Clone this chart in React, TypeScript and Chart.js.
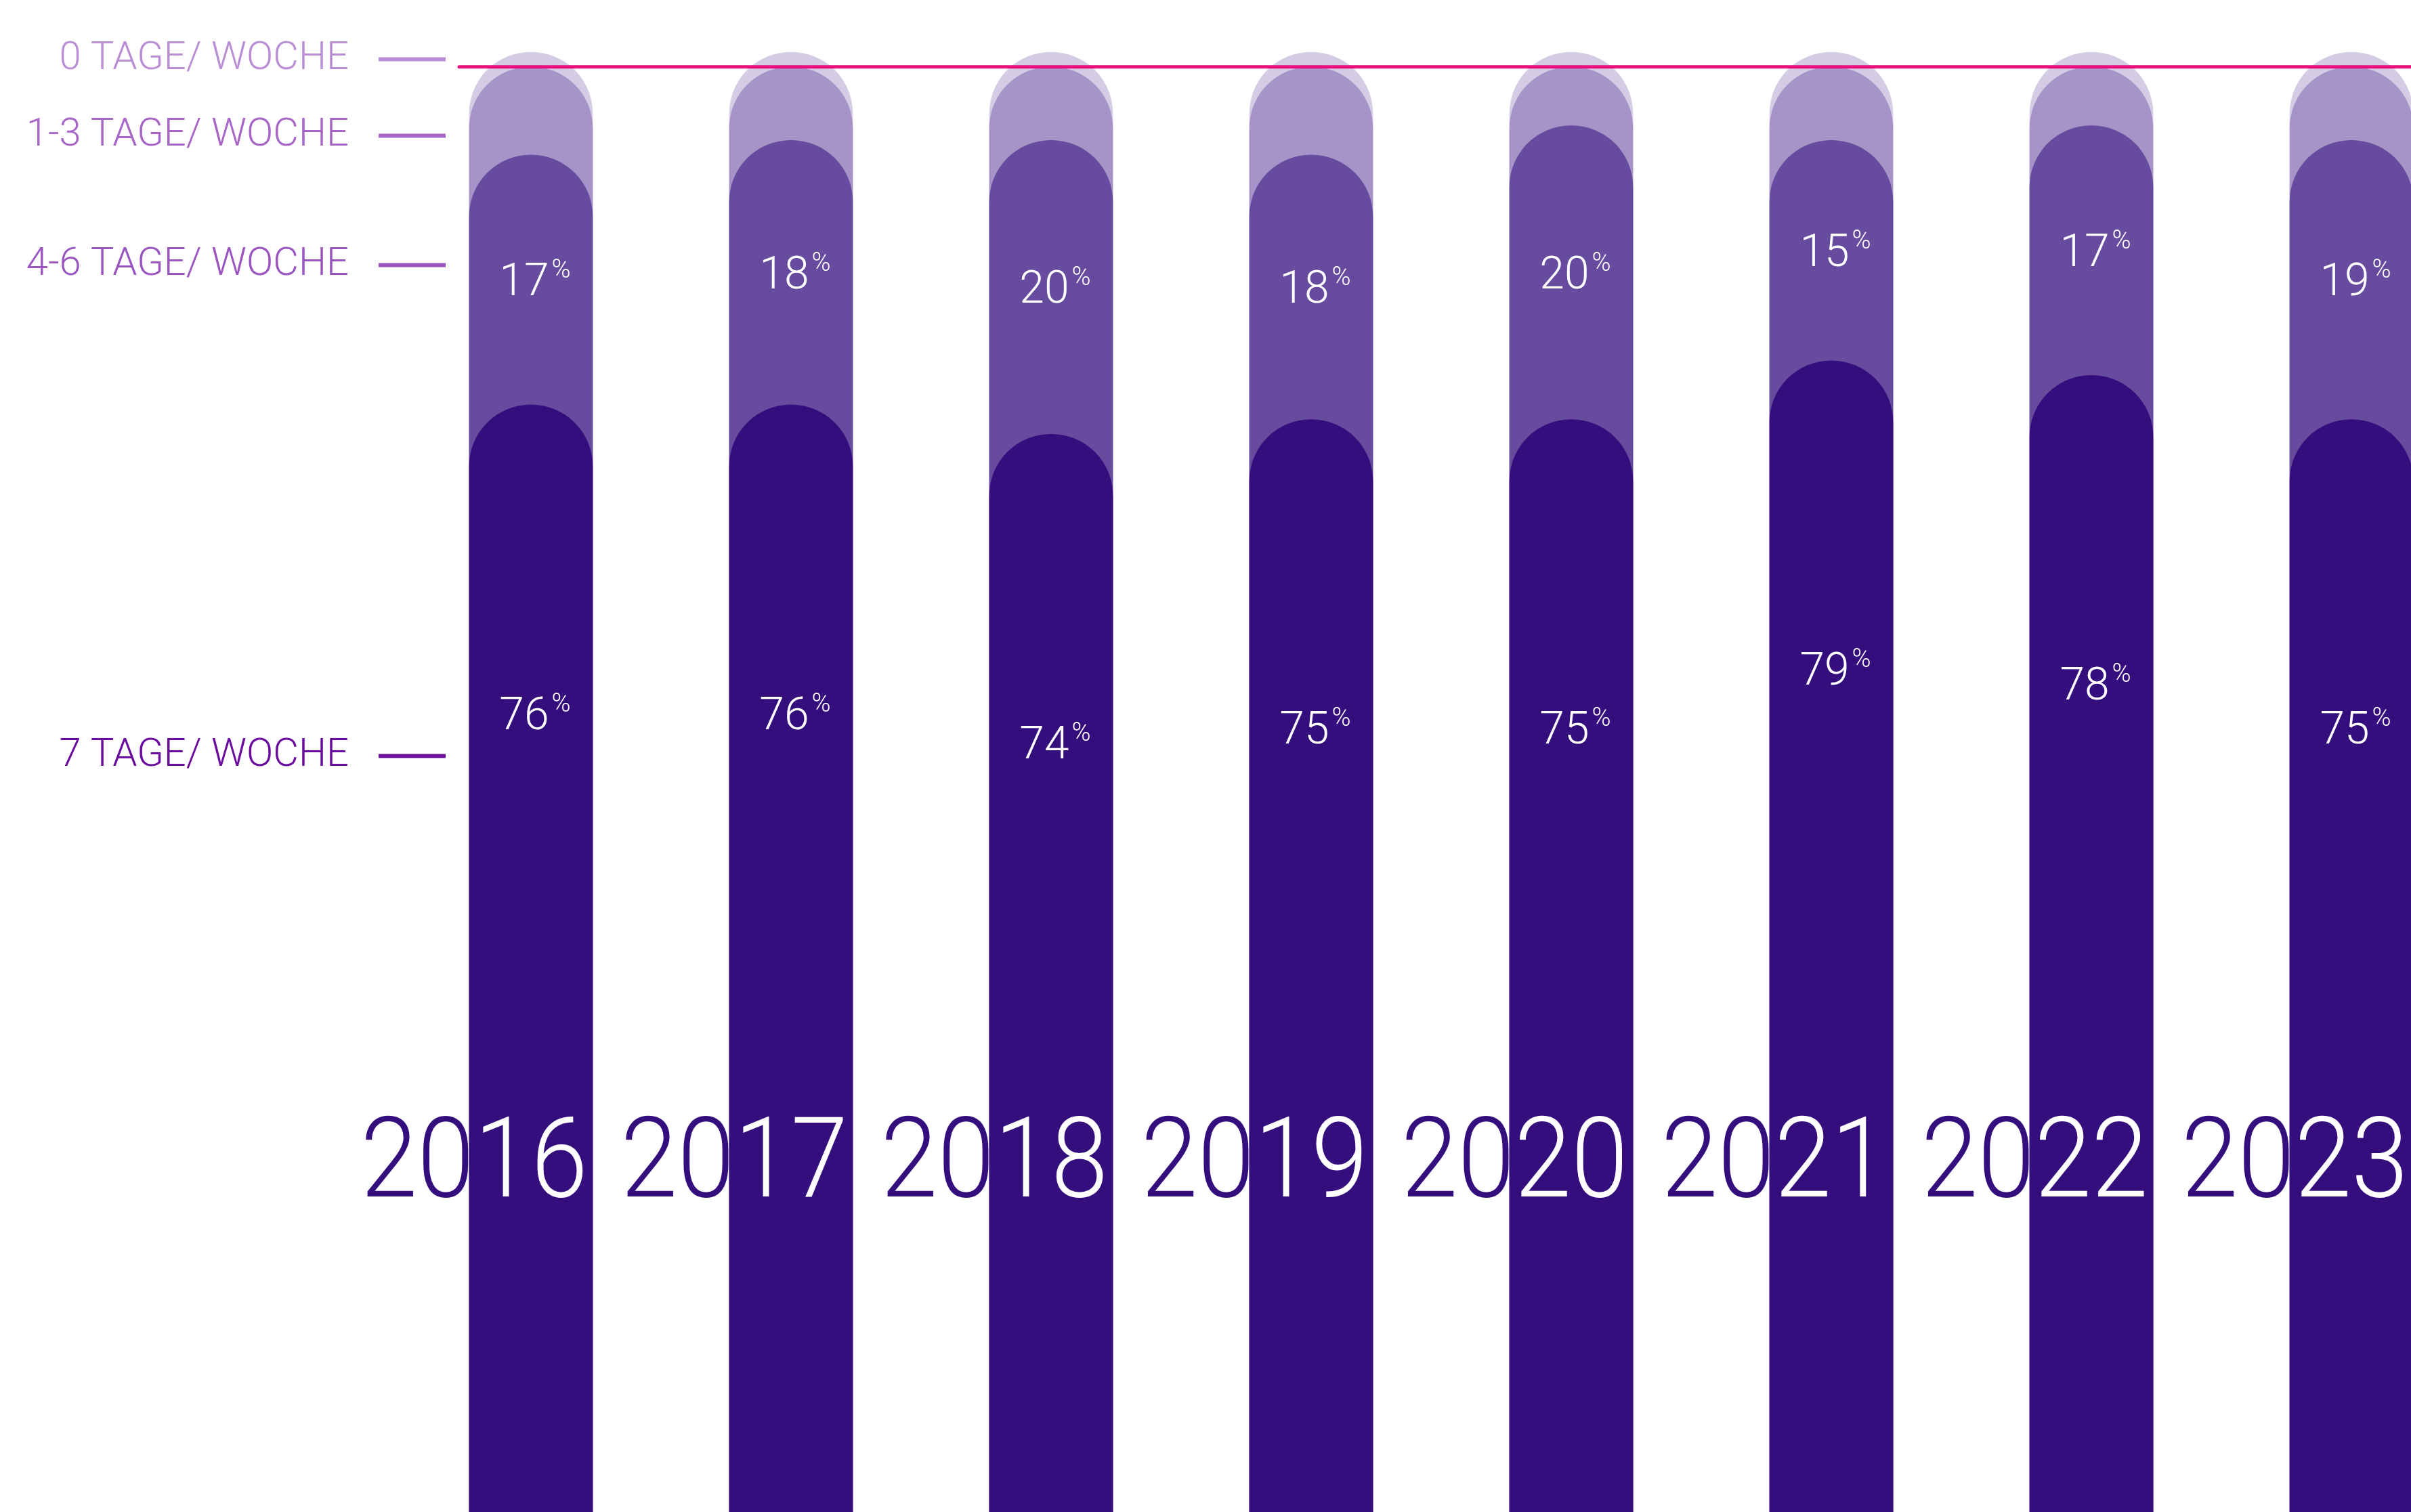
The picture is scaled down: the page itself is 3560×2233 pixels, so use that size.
import React, { useEffect, useRef } from 'react';
import { Chart, registerables } from 'chart.js';

Chart.register(...registerables);

// ---- data ----
const YEARS = [2016, 2017, 2018, 2019, 2020, 2021, 2022, 2023];
const SEVEN_DAYS = [76, 76, 74, 75, 75, 79, 78, 75];
const FOUR_TO_SIX_DAYS = [17, 18, 20, 18, 20, 15, 17, 19];
const ONE_TO_THREE_DAYS = [6, 5, 5, 6, 4, 5, 4, 5];
const ZERO_DAYS = [1, 1, 1, 1, 1, 1, 1, 1];
const REFERENCE_LINE = 99;

const LEGEND_LABELS = ['0 TAGE/ WOCHE', '1-3 TAGE/ WOCHE', '4-6 TAGE/ WOCHE', '7 TAGE/ WOCHE'];
const LEGEND_TICKS = [99.5, 94.3, 85.5, 52.1];

// ---- styles ----
const COLOR_SEVEN = '#350E7E';
const COLOR_FOUR_SIX = '#674B9E';
const COLOR_ONE_THREE = '#A494C7';
const COLOR_ZERO = '#D4CBE5';
const COLOR_PINK = '#E5127C';
const LEGEND_COLORS = ['#BA8ED4', '#A866C7', '#9B55C0', '#6B0A9F'];
const FONT = 'Roboto, "Noto Sans", sans-serif';

const W = 3560;
const H = 2233;

function cumulative(...arrs: number[][]): number[] {
  return YEARS.map((_, i) => arrs.reduce((s, a) => s + a[i], 0));
}

function drawPct(ctx: CanvasRenderingContext2D, value: number, cx: number, cy: number) {
  const txt = String(value);
  ctx.font = `300 66px ${FONT}`;
  const dw = ctx.measureText(txt).width;
  ctx.font = `300 38px ${FONT}`;
  const pw = ctx.measureText('%').width;
  const gap = 4;
  const total = dw + gap + pw;
  const left = cx - total / 2 + 6;
  ctx.fillStyle = '#FFFFFF';
  ctx.textAlign = 'left';
  ctx.textBaseline = 'alphabetic';
  ctx.font = `300 66px ${FONT}`;
  ctx.fillText(txt, left, cy + 23);
  ctx.font = `300 38px ${FONT}`;
  ctx.fillText('%', left + dw + gap, cy - 3);
}

const overlayPlugin = {
  id: 'overlay',
  afterDatasetsDraw(chart: any) {
    const { ctx, chartArea } = chart;
    const ys = chart.scales.y;

    // reference line
    const ly = ys.getPixelForValue(REFERENCE_LINE);
    ctx.save();
    ctx.strokeStyle = COLOR_PINK;
    ctx.lineWidth = 5;
    ctx.lineCap = 'round';
    ctx.beginPath();
    ctx.moveTo(chartArea.left + 20, ly);
    ctx.lineTo(chartArea.right, ly);
    ctx.stroke();
    ctx.restore();

    const meta = chart.getDatasetMeta(0);
    meta.data.forEach((bar: any, i: number) => {
      const { x, width } = bar.getProps(['x', 'width'], true);

      // percentage labels
      ctx.save();
      const midY = ys.getPixelForValue(SEVEN_DAYS[i] + FOUR_TO_SIX_DAYS[i] / 2);
      drawPct(ctx, FOUR_TO_SIX_DAYS[i], x, midY);
      const darkY = ys.getPixelForValue(SEVEN_DAYS[i] - 21);
      drawPct(ctx, SEVEN_DAYS[i], x, darkY);
      ctx.restore();

      // year labels (two-tone)
      const label = String(YEARS[i]);
      const head = label.slice(0, 2);
      const tail = label.slice(2);
      const sx = 0.91;
      ctx.save();
      ctx.font = `300 166px ${FONT}`;
      const tailW = ctx.measureText(tail).width * sx;
      const headW = ctx.measureText(head).width * sx;
      const startX = x - tailW / 2 - headW;
      const baseY = chartArea.bottom - 466;
      const drawYear = (color: string) => {
        ctx.save();
        ctx.translate(startX, baseY);
        ctx.scale(sx, 1);
        ctx.fillStyle = color;
        ctx.textAlign = 'left';
        ctx.textBaseline = 'alphabetic';
        ctx.fillText(label, 0, 0);
        ctx.restore();
      };
      drawYear(COLOR_SEVEN);
      ctx.beginPath();
      ctx.rect(x - width / 2, 0, width, chart.height);
      ctx.clip();
      drawYear('#FFFFFF');
      ctx.restore();
    });
  },
};

export default function App() {
  const canvasRef = useRef<HTMLCanvasElement | null>(null);

  useEffect(() => {
    let chart: Chart | null = null;
    let cancelled = false;

    const build = () => {
      if (cancelled || !canvasRef.current) return;
      const barStyle = {
        barThickness: 182,
        grouped: false,
        borderWidth: 0,
        borderRadius: { topLeft: 91, topRight: 91, bottomLeft: 0, bottomRight: 0 },
      };
      chart = new Chart(canvasRef.current, {
        type: 'bar',
        data: {
          labels: YEARS,
          datasets: [
            {
              label: '7 Tage/ Woche',
              data: YEARS.map((yr, i) => ({ x: yr, y: SEVEN_DAYS[i] })),
              backgroundColor: COLOR_SEVEN,
              order: 1,
              ...barStyle,
            },
            {
              label: '4-6 Tage/ Woche',
              data: YEARS.map((yr, i) => ({ x: yr, y: cumulative(SEVEN_DAYS, FOUR_TO_SIX_DAYS)[i] })),
              backgroundColor: COLOR_FOUR_SIX,
              order: 2,
              ...barStyle,
            },
            {
              label: '1-3 Tage/ Woche',
              data: YEARS.map((yr, i) => ({ x: yr, y: cumulative(SEVEN_DAYS, FOUR_TO_SIX_DAYS, ONE_TO_THREE_DAYS)[i] })),
              backgroundColor: COLOR_ONE_THREE,
              order: 3,
              ...barStyle,
            },
            {
              label: '0 Tage/ Woche',
              data: YEARS.map((yr, i) => ({ x: yr, y: cumulative(SEVEN_DAYS, FOUR_TO_SIX_DAYS, ONE_TO_THREE_DAYS, ZERO_DAYS)[i] })),
              backgroundColor: COLOR_ZERO,
              order: 4,
              ...barStyle,
            },
          ] as any,
        },
        options: {
          responsive: false,
          maintainAspectRatio: false,
          animation: false,
          devicePixelRatio: 1,
          layout: { padding: 0 },
          plugins: {
            legend: { display: false },
            tooltip: { enabled: false },
          },
          scales: {
            x: {
              type: 'linear',
              display: false,
              offset: false,
              min: 2015.672,
              max: 2023.229,
            },
            y: {
              type: 'linear',
              position: 'left',
              min: 0.65,
              max: 103.55,
              border: { display: false },
              grid: {
                display: true,
                drawOnChartArea: false,
                drawTicks: true,
                tickLength: 99,
                tickWidth: 6,
                tickColor: (c: any) => LEGEND_COLORS[c.index] ?? '#000',
              },
              ticks: {
                autoSkip: false,
                padding: 44,
                color: (c: any) => LEGEND_COLORS[c.index] ?? '#000',
                font: { family: FONT, size: 58, weight: '300' as any },
                callback: (_v: any, idx: number) => LEGEND_LABELS[idx],
              },
              afterBuildTicks: (scale: any) => {
                scale.ticks = LEGEND_TICKS.map((v) => ({ value: v }));
              },
              afterFit: (scale: any) => {
                scale.width = 658;
                scale.paddingTop = 0;
                scale.paddingBottom = 0;
              },
            },
          },
        } as any,
        plugins: [overlayPlugin],
      });
    };

    const fontsReady = (document as any).fonts
      ? Promise.all([
          (document as any).fonts.load(`300 58px Roboto`),
          (document as any).fonts.load(`300 166px Roboto`),
        ]).catch(() => null)
      : Promise.resolve(null);
    fontsReady.then(build);

    return () => {
      cancelled = true;
      if (chart) chart.destroy();
    };
  }, []);

  return (
    <div style={{ position: 'absolute', left: 0, top: 0, width: W, height: H, background: '#FFFFFF' }}>
      <canvas ref={canvasRef} width={W} height={H} style={{ width: W, height: H, display: 'block' }} />
    </div>
  );
}
